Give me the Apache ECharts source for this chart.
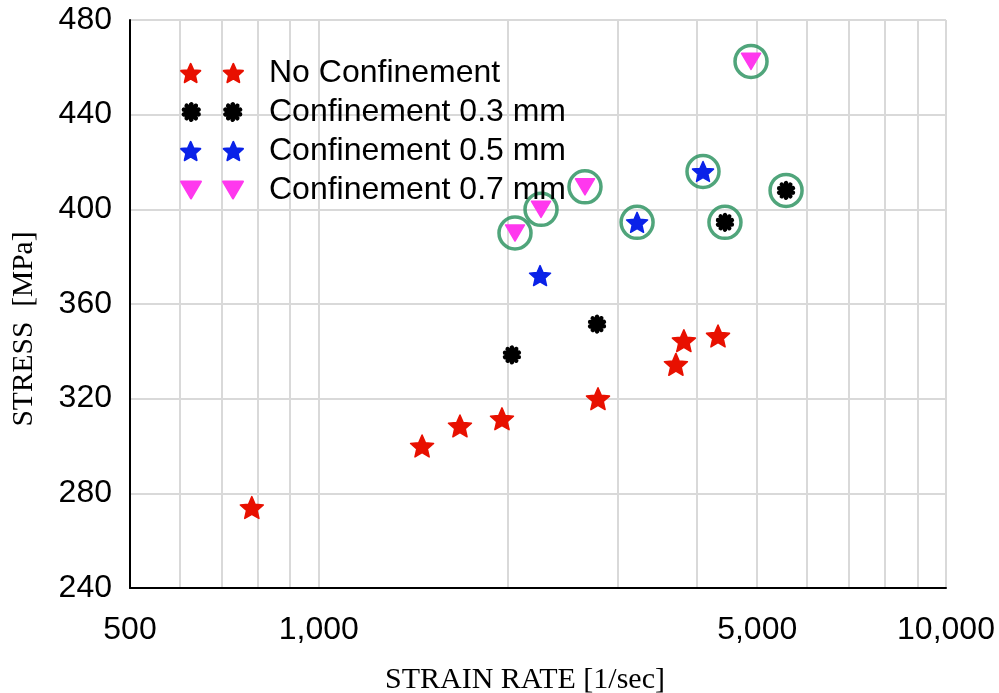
<!DOCTYPE html>
<html>
<head>
<meta charset="utf-8">
<script src="https://cdn.jsdelivr.net/npm/echarts@6/dist/echarts.min.js"></script>
<style>
  html, body { margin: 0; padding: 0; background: #ffffff; }
  #chart { width: 999px; height: 693px; }
</style>
</head>
<body>
<div id="chart"></div>
<script>
// Strain rate [1/sec] and peak stress [MPa] for each test group
const noConfRate   = [782, 1461, 1679, 1959, 2787, 3710, 3820, 4330];
const noConfStress = [274, 300, 308.5, 311.5, 320, 334.5, 344.5, 346.5];

const conf03Rate   = [2032, 2777, 4442, 5559];
const conf03Stress = [338.5, 351.5, 394.5, 408];

const conf05Rate   = [2253, 3217, 4098];
const conf05Stress = [372, 394.5, 416];

const conf07Rate   = [2055, 2261, 2657, 4888];
const conf07Stress = [390, 400, 409.5, 462.5];

// Tests marked with a ring (indices into each group)
const ringedConf03 = [2, 3];
const ringedConf05 = [1, 2];
const ringedConf07 = [0, 1, 2, 3];

const seriesNames = ['No Confinement', 'Confinement 0.3 mm', 'Confinement 0.5 mm', 'Confinement 0.7 mm'];

// Log-scale strain-rate axis: gridlines and labelled ticks
const xGridTicks  = [500, 600, 700, 800, 900, 1000, 2000, 3000, 4000, 5000, 6000, 7000, 8000, 9000, 10000];
const xLabelTicks = [500, 1000, 5000, 10000];
const yMin = 240, yMax = 480, yStep = 40;

// ---- marker shapes ----
function starPath(cx, cy, R, r) {
  let d = '';
  for (let i = 0; i < 10; i++) {
    const a = -Math.PI / 2 + i * Math.PI / 5;
    const rad = i % 2 === 0 ? R : r;
    const x = (cx + rad * Math.cos(a)).toFixed(3);
    const y = (cy + rad * Math.sin(a)).toFixed(3);
    d += (i === 0 ? 'M' : 'L') + x + ',' + y;
  }
  return d + 'Z';
}
// round blob with scalloped edge
function scallopPath(cx, cy, R, n) {
  const chord = 2 * R * Math.sin(Math.PI / n);
  const br = chord * 0.53;
  let d = '';
  for (let i = 0; i <= n; i++) {
    const a = -Math.PI / 2 + (i + 0.5) * 2 * Math.PI / n;
    const x = (cx + R * Math.cos(a)).toFixed(3);
    const y = (cy + R * Math.sin(a)).toFixed(3);
    if (i === 0) d += 'M' + x + ',' + y;
    else d += 'A' + br.toFixed(3) + ',' + br.toFixed(3) + ',0,1,1,' + x + ',' + y;
  }
  return d + 'Z';
}
function triPath(cx) {
  return 'M' + (cx - 10) + ',1L' + (cx + 10) + ',1L' + cx + ',18Z';
}

const STAR = 'path://' + starPath(10, 10, 10, 4.6);
const SCALLOP = 'path://' + scallopPath(10, 10, 7.3, 10);
const TRI = 'path://' + triPath(10);

const STAR2 = 'path://' + starPath(10, 10, 10, 4.6) + starPath(52, 10, 10, 4.6);
const SCALLOP2 = 'path://' + scallopPath(10, 10, 7.3, 10) + scallopPath(52, 10, 7.3, 10);
const TRI2 = 'path://' + triPath(10) + triPath(52);

const RED = '#e81000', BLACK = '#000000', BLUE = '#0a22e8', MAGENTA = '#ff38ee', RING = '#248e5a';

function pairs(rates, stresses) {
  return rates.map((r, i) => [Math.log10(r), stresses[i]]);
}
function ringed(rates, stresses, idx) {
  return idx.map(i => [Math.log10(rates[i]), stresses[i]]);
}
function markerSeries(name, rates, stresses, symbol, size, color, border) {
  return {
    name: name,
    type: 'scatter',
    data: pairs(rates, stresses),
    symbol: symbol,
    symbolSize: size,
    symbolKeepAspect: true,
    itemStyle: { color: color, borderColor: color, borderWidth: border, borderJoin: 'round', opacity: 1 },
    z: 3,
    emphasis: { disabled: true }
  };
}

const ringData = []
  .concat(ringed(conf03Rate, conf03Stress, ringedConf03))
  .concat(ringed(conf05Rate, conf05Stress, ringedConf05))
  .concat(ringed(conf07Rate, conf07Stress, ringedConf07));

const log10 = v => Math.log10(v);
const sansFont = '"Liberation Sans", Arial, Helvetica, sans-serif';
const serifFont = '"Liberation Serif", "Times New Roman", serif';

const chart = echarts.init(document.getElementById('chart'), null, { renderer: 'canvas' });

chart.setOption({
  backgroundColor: '#ffffff',
  animation: false,
  grid: { left: 130, right: 53, top: 20, bottom: 105, containLabel: false, outerBoundsMode: 'none' },
  xAxis: {
    type: 'value',
    min: log10(500),
    max: log10(10000),
    name: 'STRAIN RATE [1/sec]',
    nameLocation: 'middle',
    nameGap: 77,
    nameTextStyle: { fontFamily: serifFont, fontSize: 30, color: '#000', padding: [0, 26, 0, 0] },
    axisLine: { show: true, onZero: false, lineStyle: { color: '#000', width: 2 } },
    axisTick: { show: false, customValues: xGridTicks.map(log10) },
    splitLine: { show: true, lineStyle: { color: '#d9d9d9', width: 2 } },
    axisLabel: {
      customValues: xLabelTicks.map(log10),
      formatter: v => Math.round(Math.pow(10, v)).toLocaleString('en-US'),
      fontFamily: sansFont, fontSize: 32, color: '#000', margin: 26, lineHeight: 32
    }
  },
  yAxis: {
    type: 'value',
    min: yMin, max: yMax, interval: yStep,
    name: 'STRESS  [MPa]',
    nameLocation: 'middle',
    nameGap: 91,
    nameTextStyle: { fontFamily: serifFont, fontSize: 29.5, color: '#000', padding: [0, 50, 0, 0] },
    axisLine: { show: true, onZero: false, lineStyle: { color: '#000', width: 2 } },
    axisTick: { show: false },
    splitLine: { show: true, lineStyle: { color: '#d9d9d9', width: 2 } },
    axisLabel: { fontFamily: sansFont, fontSize: 32, color: '#000', margin: 18 }
  },
  legend: {
    orient: 'vertical',
    left: 175,
    top: 50,
    itemWidth: 62,
    itemHeight: 20,
    itemGap: 3,
    selectedMode: false,
    data: [
      { name: seriesNames[0], icon: STAR2 },
      { name: seriesNames[1], icon: SCALLOP2 },
      { name: seriesNames[2], icon: STAR2 },
      { name: seriesNames[3], icon: TRI2 }
    ],
    textStyle: { fontFamily: sansFont, fontSize: 32, color: '#000', lineHeight: 36, padding: [0, 0, 0, 21] }
  },
  series: [
    markerSeries(seriesNames[0], noConfRate, noConfStress, STAR, 23, RED, 1.5),
    markerSeries(seriesNames[1], conf03Rate, conf03Stress, SCALLOP, 19, BLACK, 0),
    markerSeries(seriesNames[2], conf05Rate, conf05Stress, STAR, 21, BLUE, 1.5),
    markerSeries(seriesNames[3], conf07Rate, conf07Stress, TRI, 19, MAGENTA, 1.5),
    {
      name: 'ring',
      type: 'scatter',
      data: ringData,
      symbol: 'circle',
      symbolSize: 32,
      itemStyle: { color: 'rgba(0,0,0,0)', borderColor: RING, borderWidth: 3.5 },
      z: 2,
      emphasis: { disabled: true },
      silent: true
    }
  ]
});
</script>
</body>
</html>
